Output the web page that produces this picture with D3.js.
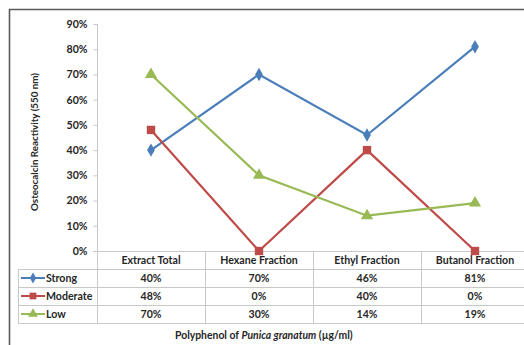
<!DOCTYPE html>
<html>
<head>
<meta charset="utf-8">
<script src="https://cdn.jsdelivr.net/npm/d3@7"></script>
<style>
  html, body { margin: 0; padding: 0; background: #fff; }
  svg { display: block; font-family: Lato, "Open Sans", sans-serif; }
</style>
</head>
<body>
<svg id="chart" width="524" height="345"></svg>
<script>
// Osteocalcin reactivity per fraction of Punica granatum polyphenol
const categories = ["Extract Total", "Hexane Fraction", "Ethyl Fraction", "Butanol Fraction"];
const seriesNames = ["Strong", "Moderate", "Low"];
const strongValues = [40, 70, 46, 81];
const moderateValues = [48, 0, 40, 0];
const lowValues = [70, 30, 14, 19];
const yTicks = [0, 10, 20, 30, 40, 50, 60, 70, 80, 90];

const colors = { Strong: "#4a7ebb", Moderate: "#be4b48", Low: "#98b954" };
const symbols = { Strong: d3.symbolDiamond, Moderate: d3.symbolSquare, Low: d3.symbolTriangle };
const symbolSizes = { Strong: 52, Moderate: 70, Low: 64 };

const series = [
  { name: seriesNames[0], values: strongValues },
  { name: seriesNames[1], values: moderateValues },
  { name: seriesNames[2], values: lowValues }
];

const svg = d3.select("#chart");
const gridColor = "#c8c8c8";
const textColor = "#262626";
const labelSize = 10.6;

// outer chart frame (left and top edges)
svg.append("path")
  .attr("d", "M9.5,345 L9.5,9.5 L524,9.5")
  .attr("fill", "none").attr("stroke", "#5a5a5a").attr("stroke-width", 1.6);

const x = d3.scaleBand().domain(categories).range([97, 529]).padding(0);
const y = d3.scaleLinear().domain([0, 90]).range([251, 24]);

// y axis
const yAxis = d3.axisLeft(y).tickValues(yTicks).tickFormat(d => d + "%").tickSize(4).tickPadding(6);
const ga = svg.append("g").attr("transform", "translate(97.5,0)").call(yAxis);
ga.select(".domain").attr("stroke", gridColor).attr("d", "M0,24V251");
ga.selectAll(".tick line").attr("stroke", gridColor);
ga.selectAll(".tick text")
  .attr("font-size", labelSize).attr("font-weight", "bold").attr("fill", textColor)
  .attr("font-family", "Lato, sans-serif");

// y axis title
svg.append("text")
  .attr("transform", "translate(38,142) rotate(-90)")
  .attr("text-anchor", "middle")
  .attr("font-size", 9.8).attr("font-weight", "bold").attr("fill", textColor)
  .text("Osteocalcin Reactivity (550 nm)");

// data table below the axis
const rowTop = 251, rowH = 18;
const tableLeft = 18, tableRight = 529;
const tg = svg.append("g").attr("stroke", gridColor).attr("stroke-width", 1);
// horizontal lines
tg.append("line").attr("x1", 93).attr("x2", tableRight).attr("y1", rowTop + 0.5).attr("y2", rowTop + 0.5);
for (let i = 1; i <= series.length + 1; i++) {
  const yy = rowTop + i * rowH + 0.5;
  tg.append("line").attr("x1", tableLeft).attr("x2", tableRight).attr("y1", yy).attr("y2", yy);
}
// vertical lines
const bottom = rowTop + (series.length + 1) * rowH;
tg.append("line").attr("x1", tableLeft + 0.5).attr("x2", tableLeft + 0.5).attr("y1", rowTop + rowH).attr("y2", bottom + 0.5);
categories.forEach(c => {
  const xx = Math.round(x(c)) + 0.5;
  tg.append("line").attr("x1", xx).attr("x2", xx).attr("y1", rowTop).attr("y2", bottom + 0.5);
});

// category headers
svg.append("g").selectAll("text").data(categories).join("text")
  .attr("x", d => x(d) + x.bandwidth() / 2)
  .attr("y", rowTop + rowH / 2 + 4)
  .attr("text-anchor", "middle")
  .attr("font-size", labelSize).attr("font-weight", "bold").attr("fill", textColor)
  .text(d => d);

// value rows with legend keys
series.forEach((s, i) => {
  const cy = rowTop + (i + 1) * rowH + rowH / 2;
  const row = svg.append("g");
  row.append("line").attr("x1", 21).attr("x2", 45).attr("y1", cy).attr("y2", cy)
    .attr("stroke", colors[s.name]).attr("stroke-width", 2);
  row.append("path")
    .attr("d", d3.symbol().type(symbols[s.name]).size(symbolSizes[s.name] * 0.65)())
    .attr("transform", `translate(33,${cy})`)
    .attr("fill", colors[s.name]);
  row.append("text").attr("x", 46).attr("y", cy + 4)
    .attr("font-size", labelSize).attr("font-weight", "bold").attr("fill", textColor)
    .text(s.name);
  row.selectAll("text.val").data(s.values).join("text")
    .attr("class", "val")
    .attr("x", (d, j) => x(categories[j]) + x.bandwidth() / 2)
    .attr("y", cy + 4)
    .attr("text-anchor", "middle")
    .attr("font-size", labelSize).attr("font-weight", "bold").attr("fill", textColor)
    .text(d => d + "%");
});

// lines and markers
const line = d3.line()
  .x((d, j) => x(categories[j]) + x.bandwidth() / 2)
  .y(d => y(d));

series.forEach(s => {
  svg.append("path")
    .datum(s.values)
    .attr("d", line)
    .attr("fill", "none")
    .attr("stroke", colors[s.name])
    .attr("stroke-width", 2.2);
  svg.append("g").selectAll("path").data(s.values).join("path")
    .attr("d", d3.symbol().type(symbols[s.name]).size(symbolSizes[s.name])())
    .attr("transform", (d, j) => `translate(${x(categories[j]) + x.bandwidth() / 2},${y(d)})`)
    .attr("fill", colors[s.name]);
});

// x axis title
const xt = svg.append("text")
  .attr("x", 175).attr("y", 339)
  .attr("font-size", 10.4).attr("font-weight", "bold").attr("fill", textColor);
xt.append("tspan").text("Polyphenol of ");
xt.append("tspan").attr("font-style", "italic").text("Punica granatum");
xt.append("tspan").text(" (\u00b5g/ml)");
</script>
</body>
</html>
